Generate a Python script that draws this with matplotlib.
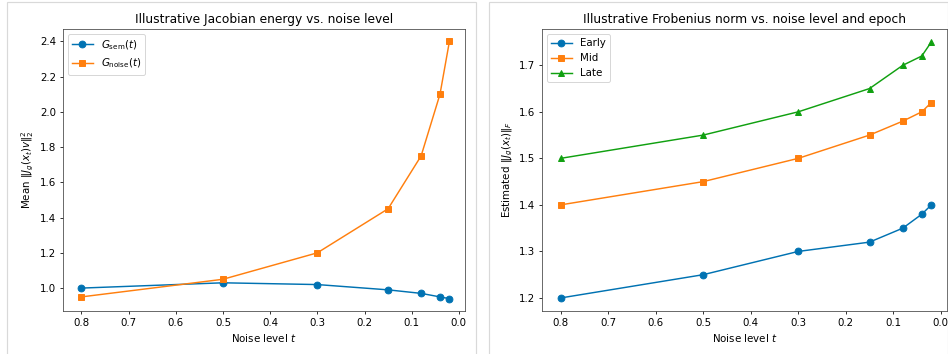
import numpy as np
import matplotlib.pyplot as plt
from matplotlib.patches import Rectangle

# datos
t = [0.8, 0.5, 0.3, 0.15, 0.08, 0.04, 0.02]

g_sem = [1.00, 1.03, 1.02, 0.99, 0.97, 0.95, 0.94]
g_noise = [0.95, 1.05, 1.20, 1.45, 1.75, 2.10, 2.40]

frob_early = [1.20, 1.25, 1.30, 1.32, 1.35, 1.38, 1.40]
frob_mid = [1.40, 1.45, 1.50, 1.55, 1.58, 1.60, 1.62]
frob_late = [1.50, 1.55, 1.60, 1.65, 1.70, 1.72, 1.75]

azul = '#0072B2'
naranja = '#FF7F0E'
verde = '#10A010'

plt.rcParams['font.size'] = 10.5
plt.rcParams['lines.markersize'] = 7

dpi = 70
fig = plt.figure(figsize=(948 / dpi, 354 / dpi), dpi=dpi)

# marcos grises de cada panel
for x0, x1 in [(7, 476), (489, 948)]:
    fig.patches.append(Rectangle((x0 / 948, -0.1), (x1 - x0) / 948, 1.1 - 2 / 354,
                                 transform=fig.transFigure, fill=False,
                                 edgecolor='#d9d9d9', linewidth=1.2))

ax1 = fig.add_axes([63 / 948, 1 - 311 / 354, (465 - 63) / 948, (311 - 29) / 354])
ax2 = fig.add_axes([542 / 948, 1 - 311 / 354, (947 - 542) / 948, (311 - 29) / 354])

# 1. energia del jacobiano
ax1.plot(t, g_sem, marker='o', color=azul, label=r'$G_{\mathrm{sem}}(t)$')
ax1.plot(t, g_noise, marker='s', color=naranja, label=r'$G_{\mathrm{noise}}(t)$')
ax1.set_title('Illustrative Jacobian energy vs. noise level')
ax1.set_xlabel(r'Noise level $t$')
ax1.set_ylabel(r'Mean $\|J_g(x_t)v\|_2^2$')
ax1.set_xticks([0.8, 0.7, 0.6, 0.5, 0.4, 0.3, 0.2, 0.1, 0.0])
ax1.set_yticks([1.0, 1.2, 1.4, 1.6, 1.8, 2.0, 2.2, 2.4])
ax1.set_xlim(0.839, -0.013)
ax1.set_ylim(0.87, 2.47)
ax1.legend(loc='upper left')

# 2. norma de Frobenius por epoca
ax2.plot(t, frob_early, marker='o', color=azul, label='Early')
ax2.plot(t, frob_mid, marker='s', color=naranja, label='Mid')
ax2.plot(t, frob_late, marker='^', color=verde, label='Late')
ax2.set_title('Illustrative Frobenius norm vs. noise level and epoch')
ax2.set_xlabel(r'Noise level $t$')
ax2.set_ylabel(r'Estimated $\|J_g(x_t)\|_F$')
ax2.set_xticks([0.8, 0.7, 0.6, 0.5, 0.4, 0.3, 0.2, 0.1, 0.0])
ax2.set_yticks([1.2, 1.3, 1.4, 1.5, 1.6, 1.7])
ax2.set_xlim(0.839, -0.013)
ax2.set_ylim(1.172, 1.778)
ax2.legend(loc='upper left')

for ax in (ax1, ax2):
    for s in ax.spines.values():
        s.set_edgecolor('#444444')

fig.savefig('out.png', dpi=dpi)
